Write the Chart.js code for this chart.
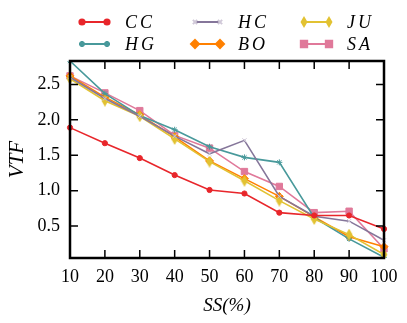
<!DOCTYPE html>
<html>
<head>
<meta charset="utf-8">
<script src="https://cdn.jsdelivr.net/npm/chart.js@4/dist/chart.umd.min.js"></script>
<style>
  html, body { margin: 0; padding: 0; background: #fff; }
  #wrap { width: 407px; height: 323px; }
</style>
</head>
<body>
<div id="wrap"><canvas id="chart" width="407" height="323"></canvas></div>
<script>
const ssLabels = ["10", "20", "30", "40", "50", "60", "70", "80", "90", "100"];
const yTicks = [0.5, 1.0, 1.5, 2.0, 2.5];

const ccValues = [1.89, 1.67, 1.46, 1.22, 1.01, 0.96, 0.69, 0.65, 0.65, 0.46];
const hcValues = [2.60, 2.30, 2.05, 1.77, 1.52, 1.71, 0.92, 0.64, 0.57, 0.30];
const juValues = [2.58, 2.27, 2.05, 1.73, 1.41, 1.14, 0.86, 0.60, 0.38, 0.10];
const hgValues = [2.83, 2.37, 2.06, 1.86, 1.62, 1.47, 1.40, 0.62, 0.32, 0.06];
const boValues = [2.62, 2.32, 2.07, 1.76, 1.42, 1.17, 0.92, 0.63, 0.35, 0.21];
const saValues = [2.62, 2.38, 2.13, 1.78, 1.60, 1.27, 1.06, 0.69, 0.71, 0.18];

const serif = "'Liberation Serif', 'DejaVu Serif', serif";

// thin diamond marker for JU
function thinDiamond(color) {
    const c = document.createElement("canvas");
    c.width = 8; c.height = 12;
    const g = c.getContext("2d");
    g.fillStyle = color;
    g.beginPath();
    g.moveTo(4, 0); g.lineTo(7.5, 6); g.lineTo(4, 12); g.lineTo(0.5, 6);
    g.closePath();
    g.fill();
    return c;
}

const series = [
    { label: "CC", data: ccValues, color: "#e8262b", style: "circle", r: 2.6 },
    { label: "HC", data: hcValues, color: "#85769a", style: "crossRot", r: 3, pointColor: "#d0c8d8" },
    { label: "JU", data: juValues, color: "#e2c232", style: thinDiamond("#e2c232"), r: 4 },
    { label: "HG", data: hgValues, color: "#48999b", style: "star", r: 3 },
    { label: "BO", data: boValues, color: "#ff8000", style: "rectRot", r: 4 },
    { label: "SA", data: saValues, color: "#e0799a", style: "rect", r: 4.5 }
];

const datasets = series.map(s => ({
    label: s.label,
    data: s.data,
    borderColor: s.color,
    backgroundColor: s.pointColor || s.color,
    pointBorderColor: s.pointColor || s.color,
    pointBackgroundColor: s.pointColor || s.color,
    pointStyle: s.style,
    pointRadius: s.r,
    pointBorderWidth: 1,
    borderWidth: 1.6,
    tension: 0
}));

// legend drawn in fixed columns, 2 rows
const legendPlugin = {
    id: "colLegend",
    afterDraw(chart) {
        const ctx = chart.ctx;
        const colX = [82, 195, 304];
        const rowY = [22, 44];
        chart.data.datasets.forEach((ds, i) => {
            const x0 = colX[i % 3], y = rowY[Math.floor(i / 3)];
            const x1 = x0 + 25;
            ctx.save();
            ctx.strokeStyle = ds.borderColor;
            ctx.lineWidth = 2;
            ctx.beginPath();
            ctx.moveTo(x0, y); ctx.lineTo(x1, y);
            ctx.stroke();
            const opts = { pointStyle: ds.pointStyle, radius: ds.pointRadius, borderWidth: 1 };
            ctx.fillStyle = ds.pointBackgroundColor;
            ctx.strokeStyle = ds.pointBorderColor;
            Chart.helpers.drawPoint(ctx, opts, x0, y);
            Chart.helpers.drawPoint(ctx, opts, x1, y);
            ctx.fillStyle = "#000";
            ctx.font = "italic 18px " + serif;
            ctx.textBaseline = "middle";
            ctx.textAlign = "left";
            ctx.letterSpacing = "3px";
            ctx.fillText(ds.label, x1 + 18, y + 1);
            ctx.restore();
        });
    }
};

// inward ticks on all four sides + frame
const framePlugin = {
    id: "frame",
    afterDatasetsDraw(chart) {
        const { ctx, chartArea: a, scales } = chart;
        ctx.save();
        ctx.strokeStyle = "#000";
        ctx.lineWidth = 1.5;
        const len = 8;
        ctx.beginPath();
        scales.x.ticks.forEach((t, i) => {
            const px = scales.x.getPixelForTick(i);
            ctx.moveTo(px, a.bottom); ctx.lineTo(px, a.bottom - len);
            ctx.moveTo(px, a.top); ctx.lineTo(px, a.top + len);
        });
        scales.y.ticks.forEach(t => {
            const py = scales.y.getPixelForValue(t.value);
            ctx.moveTo(a.left, py); ctx.lineTo(a.left + len, py);
            ctx.moveTo(a.right, py); ctx.lineTo(a.right - len, py);
        });
        ctx.stroke();
        ctx.lineWidth = 2.5;
        ctx.strokeRect(a.left, a.top, a.right - a.left, a.bottom - a.top);
        ctx.restore();
    }
};

new Chart(document.getElementById("chart"), {
    type: "line",
    data: { labels: ssLabels, datasets: datasets },
    options: {
        responsive: false,
        animation: false,
        layout: { padding: { top: 61, right: 23, left: 0, bottom: 0 } },
        plugins: { legend: { display: false }, tooltip: { enabled: false } },
        scales: {
            x: {
                offset: false,
                grid: { display: false, drawTicks: false },
                border: { display: false },
                ticks: { color: "#000", font: { family: serif, size: 18 }, padding: 8, maxRotation: 0, autoSkip: false },
                title: { display: true, text: "SS(%)", color: "#000", font: { family: serif, size: 19, style: "italic" }, padding: { top: 0, bottom: 6 } },
                afterFit(scale) { scale.height = 65; }
            },
            y: {
                min: 0.05,
                max: 2.83,
                grid: { display: false, drawTicks: false },
                border: { display: false },
                afterBuildTicks(scale) { scale.ticks = yTicks.map(v => ({ value: v })); },
                ticks: {
                    color: "#000",
                    font: { family: serif, size: 18 },
                    padding: 10,
                    callback: v => Number(v).toFixed(1)
                },
                title: { display: true, text: "VTF", color: "#000", font: { family: serif, size: 21, style: "italic" }, padding: { top: 5, bottom: 0 } },
                afterFit(scale) { scale.width = 70; }
            }
        }
    },
    plugins: [legendPlugin, framePlugin]
});
</script>
</body>
</html>
